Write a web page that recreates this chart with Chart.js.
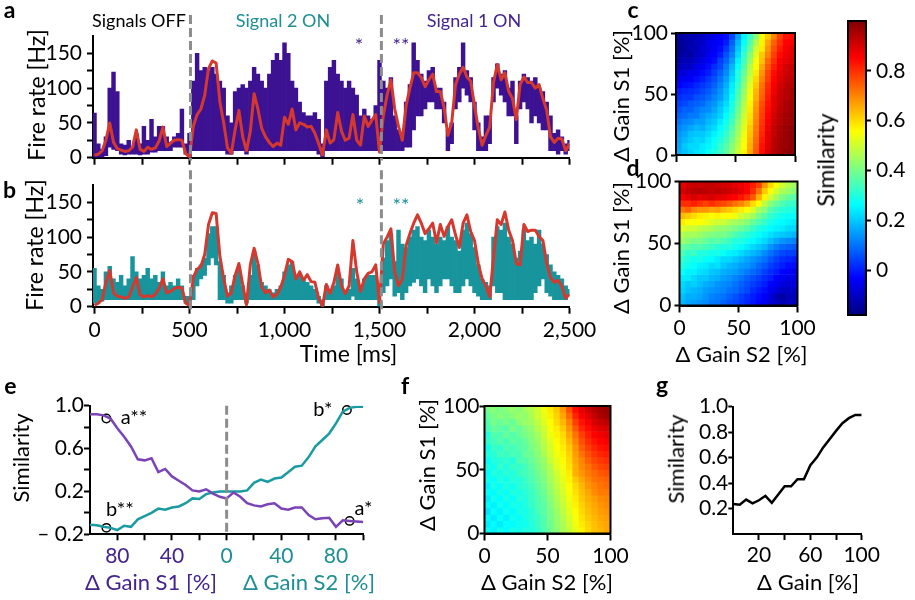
<!DOCTYPE html>
<html>
<head>
<meta charset="utf-8">
<title>Fire rate and gain similarity</title>
<script src="https://cdn.jsdelivr.net/npm/chart.js@4.4.1/dist/chart.umd.min.js"></script>
<style>
  html, body { margin: 0; padding: 0; background: #fff; }
  body { position: relative; width: 915px; height: 600px; overflow: hidden; font-family: Lato, "Noto Sans", sans-serif; }
  canvas { position: absolute; left: 0; top: 0; }
  .lbl { position: absolute; white-space: nowrap; line-height: 1.2; color: #000; }
</style>
</head>
<body>
<canvas id="chartA" width="915" height="600"></canvas>
<canvas id="chartB" width="915" height="600"></canvas>
<canvas id="chartC" width="915" height="600"></canvas>
<canvas id="chartD" width="915" height="600"></canvas>
<canvas id="chartBar" width="915" height="600"></canvas>
<canvas id="chartE" width="915" height="600"></canvas>
<canvas id="chartF" width="915" height="600"></canvas>
<canvas id="chartG" width="915" height="600"></canvas>
<script>
// ---------- DATA ----------

// time axis of panels a and b (ms)
const times = [
  0, 20, 40, 60, 80, 100, 120, 140, 160, 180,
  200, 220, 240, 260, 280, 300, 320, 340, 360, 380,
  400, 420, 440, 460, 480, 500, 520, 540, 560, 580,
  600, 620, 640, 660, 680, 700, 720, 740, 760, 780,
  800, 820, 840, 860, 880, 900, 920, 940, 960, 980,
  1000, 1020, 1040, 1060, 1080, 1100, 1120, 1140, 1160, 1180,
  1200, 1220, 1240, 1260, 1280, 1300, 1320, 1340, 1360, 1380,
  1400, 1420, 1440, 1460, 1480, 1500, 1520, 1540, 1560, 1580,
  1600, 1620, 1640, 1660, 1680, 1700, 1720, 1740, 1760, 1780,
  1800, 1820, 1840, 1860, 1880, 1900, 1920, 1940, 1960, 1980,
  2000, 2020, 2040, 2060, 2080, 2100, 2120, 2140, 2160, 2180,
  2200, 2220, 2240, 2260, 2280, 2300, 2320, 2340, 2360, 2380,
  2400, 2420, 2440, 2460, 2480, 2500
];

// panel a: red trace and purple (signal 1) envelope, Hz
const redA = [
  4, 5, 10, 25, 50, 22, 13, 11, 9, 10,
  15, 40, 12, 9, 15, 12, 14, 24, 44, 16,
  21, 25, 26, 25, 6, 1, 45, 62, 70, 90,
  128, 139, 136, 80, 50, 14, 6, 40, 68, 30,
  10, 38, 92, 70, 42, 30, 22, 16, 21, 18,
  58, 48, 70, 40, 50, 48, 44, 45, 35, 20,
  4, 40, 21, 26, 65, 38, 25, 28, 62, 25,
  18, 60, 45, 54, 62, 8, 60, 90, 112, 70,
  45, 25, 75, 100, 122, 122, 115, 102, 112, 120,
  95, 95, 72, 32, 50, 105, 120, 130, 116, 110,
  75, 42, 18, 32, 44, 108, 134, 112, 122, 95,
  85, 55, 105, 116, 108, 108, 100, 105, 85, 68,
  30, 22, 28, 27, 10, 20
];
const hiA = [
  64, 20, 12, 30, 100, 123, 95, 20, 18, 25,
  15, 35, 20, 45, 25, 55, 30, 45, 45, 30,
  22, 30, 35, 70, 20, 35, 110, 150, 125, 130,
  125, 130, 120, 110, 100, 60, 50, 95, 100, 105,
  100, 110, 130, 120, 110, 100, 120, 140, 150, 140,
  165, 150, 110, 100, 80, 65, 60, 60, 65, 55,
  20, 110, 130, 140, 120, 110, 100, 110, 100, 90,
  60, 70, 60, 55, 75, 140, 110, 100, 115, 60,
  40, 30, 80, 105, 165, 140, 120, 110, 125, 130,
  100, 100, 80, 40, 50, 115, 130, 165, 125, 115,
  80, 50, 30, 60, 60, 115, 135, 120, 125, 100,
  110, 60, 110, 120, 115, 110, 115, 100, 95, 80,
  60, 35, 40, 30, 20, 25
];
const loA = [
  0, 0, 0, 3, 15, 12, 10, 5, 4, 5,
  5, 5, 4, 5, 5, 8, 8, 10, 10, 10,
  10, 15, 15, 15, 5, 0, 10, 10, 10, 10,
  10, 10, 10, 10, 10, 5, 5, 10, 10, 10,
  5, 10, 10, 10, 10, 10, 10, 10, 10, 10,
  10, 10, 10, 10, 10, 10, 10, 10, 10, 5,
  0, 10, 10, 10, 10, 10, 10, 10, 10, 10,
  10, 10, 10, 10, 10, 10, 10, 10, 10, 10,
  10, 10, 15, 15, 40, 60, 60, 70, 80, 80,
  70, 70, 50, 10, 20, 70, 80, 100, 90, 80,
  40, 10, 10, 10, 20, 80, 100, 90, 80, 60,
  60, 20, 70, 80, 70, 50, 60, 50, 40, 40,
  10, 10, 5, 10, 5, 10
];

// panel b: red trace and teal (signal 2) envelope, Hz
const redB = [
  2, 5, 10, 35, 52, 20, 15, 14, 12, 14,
  28, 42, 17, 14, 16, 14, 18, 26, 40, 20,
  22, 26, 28, 27, 5, 2, 42, 54, 58, 75,
  118, 135, 134, 72, 40, 15, 20, 45, 62, 32,
  3, 60, 84, 62, 28, 20, 24, 14, 18, 28,
  45, 68, 65, 40, 50, 38, 46, 36, 35, 12,
  1, 32, 19, 35, 60, 30, 19, 30, 95, 50,
  22, 40, 48, 50, 60, 6, 90, 100, 112, 50,
  30, 40, 88, 105, 120, 132, 120, 105, 112, 120,
  92, 118, 101, 115, 125, 103, 85, 120, 132, 108,
  95, 62, 40, 30, 14, 70, 125, 118, 136, 110,
  95, 62, 60, 118, 108, 110, 110, 101, 95, 62,
  42, 35, 38, 29, 12, 18
];
const hiB = [
  55, 30, 25, 50, 58, 40, 35, 45, 30, 40,
  72, 50, 40, 45, 55, 40, 45, 35, 50, 30,
  35, 30, 40, 30, 15, 15, 45, 55, 60, 70,
  105, 115, 115, 65, 45, 20, 30, 45, 55, 30,
  15, 45, 80, 60, 35, 30, 25, 20, 25, 30,
  50, 60, 65, 45, 45, 40, 35, 30, 25, 15,
  10, 30, 20, 30, 50, 40, 20, 25, 55, 40,
  30, 40, 45, 45, 45, 10, 70, 95, 105, 65,
  110, 90, 85, 100, 110, 115, 100, 95, 110, 100,
  90, 100, 95, 115, 100, 95, 80, 110, 120, 105,
  85, 60, 40, 35, 30, 100, 115, 110, 120, 100,
  90, 70, 80, 110, 95, 100, 90, 110, 90, 75,
  60, 50, 45, 40, 30, 25
];
const loB = [
  5, 5, 8, 10, 10, 10, 10, 10, 10, 10,
  10, 10, 10, 10, 10, 10, 10, 10, 10, 10,
  10, 10, 10, 10, 5, 0, 10, 30, 40, 45,
  60, 70, 60, 10, 10, 5, 5, 10, 10, 10,
  5, 10, 10, 10, 10, 10, 10, 10, 10, 10,
  10, 10, 10, 10, 10, 10, 10, 10, 10, 5,
  0, 10, 10, 10, 10, 10, 10, 10, 15, 10,
  10, 10, 10, 10, 10, 0, 20, 30, 40, 15,
  20, 10, 20, 30, 35, 40, 30, 20, 40, 30,
  20, 30, 40, 40, 30, 20, 20, 30, 40, 30,
  20, 15, 10, 10, 10, 30, 20, 20, 10, 10,
  10, 10, 10, 10, 10, 10, 20, 30, 40, 20,
  15, 10, 10, 10, 10, 15
];
const switchTimes = [505, 1510];
const rateTicks = [0, 25, 50, 75, 100, 125, 150];
const rateLabels = ['0', '', '50', '', '100', '', '150'];
const timeTicks = [0, 250, 500, 750, 1000, 1250, 1500, 1750, 2000, 2250, 2500];
const timeLabels = ['0', '', '500', '', '1,000', '', '1,500', '', '2,000', '', '2,500'];

// heat maps c, d, f: rows from ΔGain S1 = 100 (top) down to 0, columns ΔGain S2 0 -> 100
const gainBins = [2.5, 7.5, 12.5, 17.5, 22.5, 27.5, 32.5, 37.5, 42.5, 47.5,
  52.5, 57.5, 62.5, 67.5, 72.5, 77.5, 82.5, 87.5, 92.5, 97.5];
const heatC = [
  [-.14, -.14, -.12, -.12, -.10, -.08, -.06, -.04, -.02, .05, .15, .25, .33, .42, .55, .62, .70, .78, .83, .84],
  [-.15, -.14, -.13, -.11, -.10, -.06, -.05, -.03, .00, .08, .18, .27, .36, .46, .57, .66, .74, .80, .85, .86],
  [-.16, -.15, -.12, -.12, -.08, -.07, -.04, -.02, .03, .10, .20, .30, .38, .50, .58, .68, .76, .82, .86, .88],
  [-.15, -.13, -.14, -.10, -.09, -.05, -.03, .00, .06, .12, .22, .32, .42, .52, .62, .70, .78, .84, .87, .89],
  [-.13, -.12, -.11, -.09, -.06, -.04, -.02, .04, .08, .15, .25, .34, .44, .55, .63, .73, .80, .86, .88, .90],
  [-.12, -.10, -.10, -.06, -.05, -.02, .02, .05, .11, .18, .27, .36, .47, .56, .66, .75, .82, .87, .90, .92],
  [-.08, -.08, -.05, -.05, -.02, .00, .04, .08, .13, .20, .30, .38, .48, .58, .68, .77, .84, .88, .91, .92],
  [-.06, -.05, -.04, -.02, .00, .03, .06, .10, .15, .22, .30, .40, .50, .60, .70, .78, .85, .89, .92, .93],
  [-.03, -.02, -.01, .01, .03, .05, .08, .12, .17, .24, .32, .42, .52, .62, .72, .80, .86, .90, .93, .94],
  [.00, .01, .02, .03, .05, .07, .10, .14, .19, .25, .34, .44, .54, .64, .73, .81, .87, .91, .94, .95],
  [.02, .03, .03, .06, .07, .09, .12, .15, .20, .27, .36, .45, .55, .65, .74, .82, .88, .92, .94, .95],
  [.04, .05, .07, .08, .09, .12, .14, .18, .22, .29, .37, .47, .57, .67, .76, .83, .88, .92, .95, .96],
  [.06, .08, .08, .10, .12, .13, .16, .20, .24, .30, .39, .48, .58, .68, .77, .84, .89, .93, .95, .96],
  [.08, .09, .11, .11, .14, .16, .18, .21, .26, .32, .40, .50, .59, .69, .78, .85, .90, .94, .96, .97],
  [.10, .12, .13, .15, .15, .18, .20, .24, .28, .34, .42, .51, .60, .70, .79, .86, .91, .94, .96, .97],
  [.12, .14, .16, .18, .17, .20, .22, .26, .30, .36, .44, .52, .62, .71, .80, .87, .92, .95, .97, .98],
  [.14, .16, .19, .20, .20, .22, .25, .28, .32, .38, .45, .54, .63, .72, .81, .88, .92, .95, .97, .98],
  [.15, .18, .20, .22, .21, .24, .27, .30, .34, .40, .47, .55, .64, .73, .82, .88, .93, .96, .97, .98],
  [.16, .20, .22, .22, .24, .25, .28, .32, .36, .42, .48, .56, .65, .74, .83, .89, .93, .96, .97, .98],
  [.17, .19, .21, .23, .24, .27, .30, .33, .37, .43, .50, .57, .66, .75, .84, .90, .94, .96, .98, .98]
];
const heatD = [
  [.88, .90, .92, .91, .92, .92, .91, .90, .90, .88, .87, .85, .82, .78, .68, .60, .55, .50, .47, .45],
  [.90, .92, .93, .94, .93, .92, .93, .92, .91, .90, .88, .85, .80, .72, .62, .56, .50, .46, .44, .42],
  [.86, .88, .90, .88, .89, .90, .88, .88, .86, .85, .83, .80, .75, .65, .57, .50, .45, .40, .38, .36],
  [.80, .80, .82, .80, .78, .80, .78, .77, .75, .72, .70, .66, .60, .55, .48, .42, .38, .35, .33, .32],
  [.72, .74, .70, .68, .68, .66, .67, .64, .62, .60, .58, .56, .52, .45, .42, .36, .33, .31, .30, .29],
  [.64, .62, .60, .58, .57, .56, .57, .55, .56, .54, .50, .48, .45, .40, .36, .32, .30, .28, .27, .27],
  [.58, .56, .55, .56, .54, .52, .50, .50, .47, .45, .44, .42, .38, .35, .32, .29, .27, .26, .25, .24],
  [.52, .50, .50, .48, .47, .46, .44, .43, .42, .40, .38, .36, .33, .30, .28, .26, .25, .24, .22, .22],
  [.47, .45, .46, .44, .42, .41, .40, .40, .38, .35, .33, .31, .29, .27, .25, .23, .21, .20, .19, .18],
  [.44, .42, .40, .40, .38, .36, .37, .35, .33, .30, .30, .28, .26, .24, .22, .19, .16, .14, .13, .12],
  [.38, .37, .35, .36, .34, .33, .31, .30, .30, .28, .26, .24, .22, .20, .18, .14, .11, .09, .08, .07],
  [.35, .32, .33, .30, .30, .28, .29, .27, .25, .24, .22, .20, .18, .16, .13, .10, .07, .05, .04, .04],
  [.32, .30, .28, .29, .27, .26, .24, .22, .22, .20, .18, .16, .14, .12, .10, .07, .04, .02, .01, .00],
  [.30, .28, .27, .25, .24, .22, .23, .20, .18, .17, .15, .14, .12, .09, .07, .04, .02, .00, -.02, -.02],
  [.27, .25, .25, .23, .22, .20, .19, .17, .16, .15, .13, .11, .09, .07, .04, .02, .00, -.03, -.04, -.05],
  [.24, .24, .22, .20, .20, .18, .17, .15, .14, .12, .10, .08, .06, .04, .02, .00, -.03, -.05, -.06, -.06],
  [.22, .20, .21, .19, .17, .16, .14, .13, .12, .10, .08, .06, .04, .02, .00, -.03, -.05, -.07, -.08, -.07],
  [.21, .19, .18, .17, .15, .14, .13, .12, .10, .09, .07, .05, .02, .00, -.02, -.05, -.07, -.10, -.10, -.09],
  [.19, .17, .17, .16, .14, .12, .11, .10, .08, .06, .04, .02, .00, -.02, -.04, -.07, -.12, -.14, -.12, -.11],
  [.18, .16, .15, .14, .13, .11, .10, .08, .06, .05, .03, .01, -.01, -.03, -.05, -.08, -.10, -.12, -.11, -.10]
];
const heatF = [
  [.40, .42, .40, .42, .44, .42, .45, .47, .50, .54, .58, .62, .68, .76, .84, .88, .91, .94, .96, .97],
  [.38, .40, .42, .40, .42, .44, .43, .46, .50, .53, .57, .61, .66, .73, .81, .86, .89, .92, .95, .96],
  [.36, .40, .38, .40, .38, .42, .44, .45, .48, .52, .56, .60, .64, .70, .78, .83, .86, .90, .92, .93],
  [.34, .38, .37, .36, .40, .38, .41, .43, .47, .50, .55, .58, .62, .68, .75, .81, .84, .87, .89, .90],
  [.30, .36, .35, .38, .36, .38, .40, .42, .45, .49, .54, .57, .60, .66, .72, .78, .82, .85, .87, .88],
  [.32, .34, .36, .34, .37, .36, .38, .41, .44, .48, .52, .56, .59, .64, .70, .76, .80, .83, .85, .86],
  [.28, .33, .32, .35, .34, .36, .37, .40, .43, .47, .51, .55, .58, .62, .68, .74, .78, .81, .83, .84],
  [.30, .31, .34, .33, .35, .34, .38, .39, .42, .46, .50, .54, .57, .61, .67, .72, .76, .79, .81, .82],
  [.27, .30, .31, .32, .30, .35, .36, .38, .41, .44, .49, .53, .56, .60, .66, .70, .74, .77, .79, .80],
  [.29, .28, .32, .30, .33, .32, .34, .37, .40, .43, .47, .52, .55, .59, .65, .69, .72, .75, .77, .78],
  [.26, .30, .29, .31, .30, .33, .34, .36, .39, .42, .46, .50, .54, .58, .65, .68, .71, .73, .75, .76],
  [.28, .27, .30, .28, .31, .30, .33, .35, .38, .41, .45, .49, .53, .57, .62, .66, .69, .72, .73, .74],
  [.25, .29, .27, .30, .28, .31, .32, .34, .37, .40, .44, .48, .52, .56, .60, .64, .68, .70, .72, .73],
  [.27, .26, .29, .27, .30, .29, .31, .33, .36, .39, .43, .47, .51, .55, .59, .63, .66, .69, .71, .71],
  [.24, .28, .26, .29, .27, .30, .30, .33, .35, .38, .42, .46, .50, .54, .58, .62, .65, .67, .69, .70],
  [.26, .25, .28, .26, .29, .28, .30, .32, .35, .37, .41, .45, .49, .53, .57, .61, .64, .66, .68, .69],
  [.23, .27, .25, .28, .26, .29, .29, .31, .34, .37, .40, .44, .48, .52, .56, .60, .63, .65, .67, .68],
  [.26, .24, .27, .25, .28, .27, .29, .31, .33, .36, .40, .43, .47, .51, .55, .59, .62, .64, .66, .67],
  [.24, .26, .24, .27, .26, .28, .28, .30, .33, .36, .39, .43, .46, .50, .54, .58, .61, .63, .65, .66],
  [.27, .25, .28, .26, .29, .28, .30, .30, .32, .35, .39, .42, .46, .49, .53, .57, .60, .63, .64, .66]
];
const gainTicks = [0, 50, 100];
const gainLabels = ['0', '50', '100'];
const SIM_MIN = -0.18, SIM_MAX = 1.0;
const barTicks = [0, 0.2, 0.4, 0.6, 0.8];
const barLabels = ['0', '0.2', '0.4', '0.6', '0.8'];

// panel e: x < 0 is ΔGain S1, x > 0 is ΔGain S2
const eGain = [-100, -95, -90, -85, -80, -75, -70, -65, -60, -55, -50, -45, -40, -35, -30, -25, -20, -15, -10, -5,
  0, 5, 10, 15, 20, 25, 30, 35, 40, 45, 50, 55, 60, 65, 70, 75, 80, 85, 90, 95, 100];
const eSimA = [.92, .92, .91, .88, .79, .71, .62, .50, .49, .51, .38, .41, .34, .30, .26, .21, .20, .22, .18, .15,
  .135, .19, .15, .09, .07, .06, .08, .09, .04, .03, .05, .05, -.02, -.06, -.05, -.045, -.13, -.07, -.075, -.08, -.085];
const eSimB = [-.11, -.115, -.13, -.14, -.16, -.12, -.13, -.06, -.03, .00, .04, .03, .05, .06, .09, .135, .13, .175, .19, .20,
  .20, .20, .20, .21, .28, .31, .29, .32, .33, .38, .43, .44, .52, .62, .68, .74, .835, .945, .98, .99, .99];
const eMarkX = [-88, -88, 88, 90];
const eMarkY = [0.88, -0.14, 0.96, -0.075];
const eXTicks = [-80, -60, -40, -20, 0, 20, 40, 60, 80, 100];
const eXLabels = ['80', '', '40', '', '0', '', '40', '', '80', ''];
const eYTicks = [-0.2, 0, 0.2, 0.4, 0.6, 0.8, 1.0];
const eYLabels = ['\u2013 0.2', '', '0.2', '', '0.6', '', '1.0'];

// panel g
const gGain = [0, 5, 10, 15, 20, 25, 30, 35, 40, 45, 50, 55, 60, 65, 70, 75, 80, 85, 90, 95, 100];
const gSim = [.235, .23, .27, .24, .265, .30, .245, .31, .375, .375, .43, .43, .54, .60, .68, .745, .81, .87, .91, .935, .935];
const gXTicks = [20, 40, 60, 80, 100];
const gXLabels = ['20', '', '60', '', '100'];
const gYTicks = [0.2, 0.4, 0.6, 0.8, 1.0];
const gYLabels = ['0.2', '0.4', '0.6', '0.8', '1.0'];

// ---------- STYLE ----------
const W = 915, H = 600;
const FONT = 'Lato';
const RED = '#d5392e', PURPLE = '#3c1293', TEAL = '#17949c';
const E_PURPLE = '#7a43b6', E_TEAL = '#1a9ba2';
const TXT_PURPLE = '#43238f', TXT_TEAL = '#1d8e94';
const DASH = '#8c8c8c';
const BIN = 5;

Chart.defaults.font.family = FONT;
Chart.defaults.color = '#000';
Chart.defaults.animation = false;
Chart.defaults.responsive = false;
Chart.defaults.events = [];
Chart.defaults.plugins.legend.display = false;
Chart.defaults.plugins.tooltip.enabled = false;

const JET = [[0, 0, 0, 128], [0.125, 0, 0, 255], [0.375, 0, 255, 255], [0.625, 255, 255, 0], [0.875, 255, 0, 0], [1, 128, 0, 0]];
function jet(v) {
  const t = Math.min(1, Math.max(0, (v - SIM_MIN) / (SIM_MAX - SIM_MIN)));
  for (let i = 1; i < JET.length; i++) {
    if (t <= JET[i][0]) {
      const a = JET[i - 1], b = JET[i], f = (t - a[0]) / (b[0] - a[0]);
      const c = k => Math.round(a[k] + f * (b[k] - a[k]));
      return `rgb(${c(1)},${c(2)},${c(3)})`;
    }
  }
  return 'rgb(128,0,0)';
}

// axis with fixed ticks and a fixed box size
function axis(pos, min, max, ticks, labels, o = {}) {
  const vertical = pos === 'left' || pos === 'right';
  return {
    type: 'linear', position: pos, min, max, offset: false,
    afterBuildTicks: s => { s.ticks = ticks.map(v => ({ value: v })); },
    afterFit: s => { if (vertical) s.width = o.size ?? 60; else s.height = o.size ?? 40; },
    border: { display: true, color: '#000', width: 2 },
    grid: { display: true, offset: false, drawOnChartArea: false, drawTicks: true,
      tickLength: o.tick ?? 6, tickWidth: 2, tickColor: '#000' },
    ticks: { display: !!labels, autoSkip: false, maxRotation: 0, minRotation: 0, padding: o.pad ?? 3,
      color: o.color ?? '#000', font: { family: FONT, size: o.font ?? 20 },
      callback: (v, i) => labels ? labels[i] : '' }
  };
}
// place the plot area at x0..x1, y0..y1 on the full-page canvas
function box(x0, y0, x1, y1, yw = 60, xh = 40) {
  return { autoPadding: false, padding: { left: x0 - yw, top: y0, right: W - x1, bottom: H - y1 - xh } };
}

const framePlugin = {
  id: 'frame',
  afterDatasetsDraw(chart) {
    const { ctx, chartArea: a } = chart;
    ctx.save();
    ctx.strokeStyle = '#000';
    ctx.lineWidth = 2;
    ctx.strokeRect(a.left, a.top, a.right - a.left, a.bottom - a.top);
    ctx.restore();
  }
};
const dashPlugin = {
  id: 'dashes',
  afterDatasetsDraw(chart, args, opts) {
    const { ctx, scales: { x, y } } = chart;
    ctx.save();
    ctx.strokeStyle = DASH;
    ctx.lineWidth = 3;
    ctx.setLineDash([9, 4]);
    opts.at.forEach(v => {
      const px = x.getPixelForValue(v);
      ctx.beginPath();
      ctx.moveTo(px, y.getPixelForValue(opts.top));
      ctx.lineTo(px, y.getPixelForValue(opts.bottom));
      ctx.stroke();
    });
    ctx.restore();
  }
};

// ---------- CHARTS ----------

function rateChart(id, red, hi, lo, fill, area, xLabels, dashTop) {
  new Chart(document.getElementById(id), {
    type: 'bar',
    data: {
      datasets: [
        {
          type: 'line', data: times.map((t, i) => ({ x: t, y: red[i] })),
          borderColor: RED, borderWidth: 3, pointRadius: 0, tension: 0, borderJoinStyle: 'round', order: 0
        },
        {
          type: 'bar', data: times.map((t, i) => ({ x: t, y: [lo[i], hi[i]] })),
          backgroundColor: fill, borderWidth: 0, grouped: false,
          barPercentage: 1, categoryPercentage: 1, order: 1
        }
      ]
    },
    options: {
      layout: box(area[0], area[1], area[2], area[3], 60, 40),
      scales: {
        x: axis('bottom', -8, 2500, timeTicks, xLabels, { tick: 7, pad: 4, font: 21 }),
        y: axis('left', 0, 175, rateTicks, rateLabels, { tick: 6, pad: 5, font: 21 })
      },
      plugins: { dashes: { at: switchTimes, top: dashTop, bottom: -4 } }
    },
    plugins: [dashPlugin]
  });
}
rateChart('chartA', redA, hiA, loA, PURPLE, [93, 35.9, 569.5, 157.7], null, 205);
rateChart('chartB', redB, hiB, loB, TEAL, [93, 184.9, 569.5, 306.7], timeLabels, 196);

// heat maps
function heatmap(id, rows, area, xLabels) {
  const datasets = rows.map((row, r) => {
    const s1 = gainBins[gainBins.length - 1 - r];
    return {
      data: gainBins.map(g => ({ x: g, y: [s1 - BIN / 2, s1 + BIN / 2] })),
      backgroundColor: row.map(jet),
      borderWidth: 0, grouped: false, barPercentage: 1, categoryPercentage: 1
    };
  });
  new Chart(document.getElementById(id), {
    type: 'bar',
    data: { datasets },
    options: {
      layout: box(area[0], area[1], area[2], area[3], area[4], 40),
      scales: {
        x: axis('bottom', 0, 100, gainTicks, xLabels, { tick: 7, pad: 3, font: 21 }),
        y: axis('left', 0, 100, gainTicks, gainLabels, { tick: 5, pad: area[5], font: 21, size: area[4] })
      }
    },
    plugins: [framePlugin]
  });
}
heatmap('chartC', heatC, [676, 33, 795, 155, 60, 3], null);
heatmap('chartD', heatD, [679.5, 181.5, 797.5, 305.5, 60, 3], gainLabels);
heatmap('chartF', heatF, [484.5, 406, 610.5, 533.5, 60, 0], gainLabels);

// colour bar
new Chart(document.getElementById('chartBar'), {
  type: 'bar',
  data: {
    labels: ['similarity'],
    datasets: [{
      data: [[SIM_MIN, SIM_MAX]],
      backgroundColor: ctx => {
        const a = ctx.chart.chartArea;
        if (!a) return '#888';
        const g = ctx.chart.ctx.createLinearGradient(0, a.bottom, 0, a.top);
        JET.forEach(s => g.addColorStop(s[0], `rgb(${s[1]},${s[2]},${s[3]})`));
        return g;
      },
      borderWidth: 0, barPercentage: 1, categoryPercentage: 1
    }]
  },
  options: {
    layout: { autoPadding: false, padding: { left: 848, top: 21, right: W - 866 - 45, bottom: H - 315 } },
    scales: {
      x: { display: false },
      y: axis('right', SIM_MIN, SIM_MAX, barTicks, barLabels, { tick: 5, pad: 5, font: 21, size: 45 })
    }
  },
  plugins: [framePlugin]
});

// panel e
new Chart(document.getElementById('chartE'), {
  type: 'line',
  data: {
    datasets: [
      { data: eGain.map((g, i) => ({ x: g, y: eSimA[i] })), borderColor: E_PURPLE, borderWidth: 2.5, pointRadius: 0 },
      { data: eGain.map((g, i) => ({ x: g, y: eSimB[i] })), borderColor: E_TEAL, borderWidth: 2.5, pointRadius: 0 },
      {
        data: eMarkX.map((g, i) => ({ x: g, y: eMarkY[i] })), showLine: false, clip: false,
        pointRadius: 4.2, pointBackgroundColor: '#fff', pointBorderColor: '#000', pointBorderWidth: 1.5
      }
    ]
  },
  options: {
    layout: box(90, 405.7, 363.3, 534.3, 60, 40),
    scales: {
      x: axis('bottom', -100, 100, eXTicks, eXLabels, {
        tick: 6, pad: 3, font: 21,
        color: c => (c.tick && c.tick.value < 0) ? TXT_PURPLE : TXT_TEAL
      }),
      y: axis('left', -0.2, 1.0, eYTicks, eYLabels, { tick: 6, pad: 0, font: 21 })
    },
    plugins: { dashes: { at: [0], top: 1.0, bottom: -0.2 } }
  },
  plugins: [dashPlugin]
});

// panel g
new Chart(document.getElementById('chartG'), {
  type: 'line',
  data: {
    datasets: [
      { data: gGain.map((g, i) => ({ x: g, y: gSim[i] })), borderColor: '#000', borderWidth: 2.5, pointRadius: 0 }
    ]
  },
  options: {
    layout: box(733.3, 406.7, 861.7, 534, 60, 40),
    scales: {
      x: axis('bottom', 0, 100, gXTicks, gXLabels, { tick: 6, pad: 3, font: 21 }),
      y: axis('left', 0, 1.0, gYTicks, gYLabels, { tick: 5, pad: 0, font: 21 })
    }
  }
});

// ---------- TEXT ----------
function label(str, x, y, o = {}) {
  const d = document.createElement('div');
  d.className = 'lbl';
  d.textContent = str;
  d.style.left = x + 'px';
  d.style.top = y + 'px';
  d.style.fontSize = (o.size || 22) + 'px';
  if (o.color) d.style.color = o.color;
  if (o.bold) d.style.fontWeight = '700';
  const shift = o.left ? 'translate(0,-50%)' : 'translate(-50%,-50%)';
  d.style.transform = shift + (o.rot ? ' rotate(-90deg)' : '');
  document.body.appendChild(d);
}
// panel letters
label('a', 9.5, 10, { bold: true, size: 23 });
label('b', 9.5, 190, { bold: true, size: 23 });
label('c', 633, 10, { bold: true, size: 23 });
label('d', 633, 168, { bold: true, size: 23 });
label('e', 10.5, 386, { bold: true, size: 23 });
label('f', 405, 386, { bold: true, size: 23 });
label('g', 662, 385, { bold: true, size: 23 });
// panel a / b annotations
label('Signals OFF', 139, 21, { size: 18 });
label('Signal 2 ON', 283, 21, { size: 18, color: TXT_TEAL });
label('Signal 1 ON', 474, 21, { size: 18, color: TXT_PURPLE });
label('*', 359, 44, { size: 20, color: TXT_PURPLE });
label('**', 401, 44, { size: 20, color: TXT_PURPLE });
label('*', 360, 204, { size: 20, color: TXT_TEAL });
label('**', 401, 204, { size: 20, color: TXT_TEAL });
label('Fire rate [Hz]', 37, 95, { rot: true, size: 23 });
label('Fire rate [Hz]', 35, 245, { rot: true, size: 23 });
label('Time [ms]', 348.5, 354, { size: 23 });
// heat map titles
label('\u0394 Gain S1 [%]', 621, 96, { rot: true, size: 22 });
label('\u0394 Gain S1 [%]', 621, 248, { rot: true, size: 22 });
label('\u0394 Gain S2 [%]', 741.5, 353.5, { size: 22 });
label('Similarity', 826, 160, { rot: true, size: 23 });
label('\u0394 Gain S1 [%]', 427, 465, { rot: true, size: 22 });
label('\u0394 Gain S2 [%]', 547, 581.5, { size: 22 });
// panel e
label('Similarity', 21, 458, { rot: true, size: 22 });
label('a**', 120.7, 415.5, { left: true, size: 20 });
label('b**', 106, 508, { left: true, size: 20 });
label('b*', 313.3, 408, { left: true, size: 20 });
label('a*', 354.5, 506.5, { left: true, size: 20 });
label('\u0394 Gain S1 [%]', 151, 581.5, { size: 22, color: TXT_PURPLE });
label('\u0394 Gain S2 [%]', 309, 581.5, { size: 22, color: TXT_TEAL });
// panel g
label('Similarity', 676, 459, { rot: true, size: 22 });
label('\u0394 Gain [%]', 808, 581.5, { size: 22 });
</script>
</body>
</html>
